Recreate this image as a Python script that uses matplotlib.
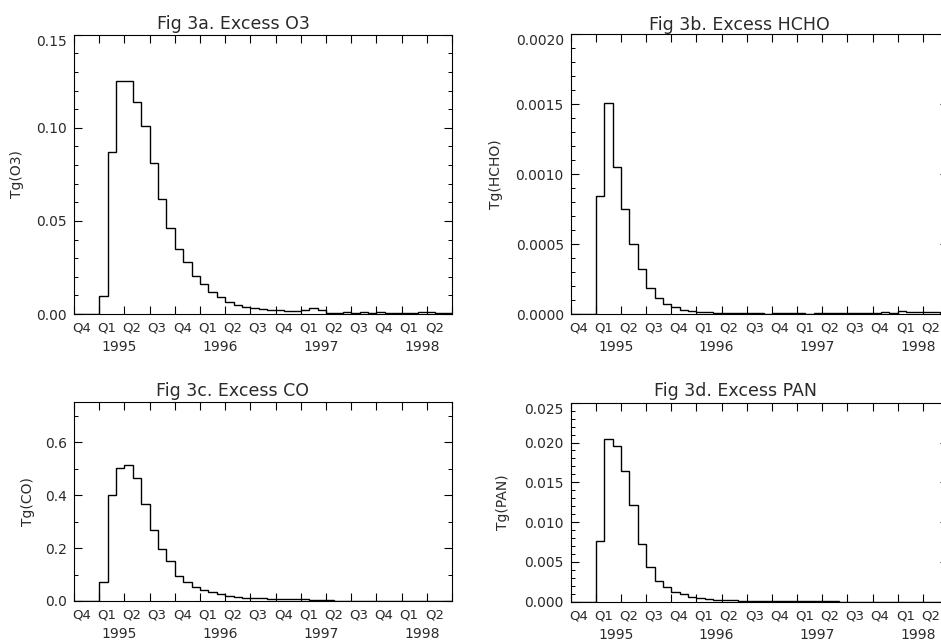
import numpy as np
import matplotlib
matplotlib.use("Agg")
import matplotlib.pyplot as plt
from matplotlib.ticker import MultipleLocator, FormatStrFormatter

# ---- data (monthly values, Oct 1994 .. Jun 1998) ----
quarter_labels = ["Q4", "Q1", "Q2", "Q3", "Q4", "Q1", "Q2", "Q3",
                  "Q4", "Q1", "Q2", "Q3", "Q4", "Q1", "Q2"]
year_labels = ["1995", "1996", "1997", "1998"]
year_quarter_index = [1, 5, 9, 13]   # Q1 of each year

o3 = [0, 0, 0, 0.0097, 0.0868, 0.125, 0.125, 0.114, 0.101, 0.081, 0.0617,
      0.046, 0.035, 0.0277, 0.0206, 0.0160, 0.0120, 0.0093, 0.0063, 0.0050,
      0.0040, 0.0032, 0.0027, 0.0023, 0.0020, 0.0018, 0.0017, 0.0020,
      0.0033, 0.0022, 0.0007, 0.0006, 0.0009, 0.0008, 0.0010, 0.0007,
      0.0009, 0.0006, 0.0008, 0.0007, 0.0007, 0.0009, 0.0010, 0.0008, 0.0003]

hcho = [0, 0, 0, 0.00084, 0.00151, 0.00105, 0.00075, 0.00050, 0.00032,
        0.000186, 0.000112, 0.000069, 0.000048, 0.000030, 0.000024,
        0.000017, 0.000013, 0.000010, 0.000008, 0.000010, 0.000006,
        0.000005, 0.000004, 0.000003, 0.000006, 0.000005, 0.000005,
        0.000004, 0.000003, 0.000006, 0.000005, 0.000007, 0.000008,
        0.000009, 0.000010, 0.000009, 0.000010, 0.000012, 0.000010,
        0.000020, 0.000012, 0.000014, 0.000013, 0.000011, 0.000010]

co = [0, 0, 0, 0.070, 0.400, 0.503, 0.513, 0.465, 0.367, 0.269, 0.195,
      0.151, 0.096, 0.072, 0.054, 0.041, 0.035, 0.025, 0.019, 0.015,
      0.0126, 0.011, 0.010, 0.009, 0.0075, 0.0072, 0.006, 0.0058, 0.005,
      0.0048, 0.0025, 0.0015, 0.0012, 0.0010, 0.0010, 0.0010, 0.0009,
      0.0009, 0.0008, 0.0008, 0.0008, 0.0007, 0.0007, 0.0007, 0.0006]

pan = [0, 0, 0, 0.0076, 0.0205, 0.0195, 0.0164, 0.0122, 0.0073, 0.0043,
       0.0026, 0.0018, 0.00126, 0.00092, 0.00063, 0.00042, 0.00033,
       0.00025, 0.00020, 0.00017, 0.00013, 0.00010, 0.00009, 0.00008,
       0.00007, 0.00006, 0.00005, 0.00005, 0.00004, 0.00004, 0.00003,
       0.00003, 0.00002, 0.00002, 0.00002, 0.00002, 0.00002, 0.00002,
       0.00002, 0.00002, 0.00002, 0.00002, 0.00002, 0.00002, 0.00002]

titles = ["Fig 3a. Excess O3", "Fig 3b. Excess HCHO",
          "Fig 3c. Excess CO", "Fig 3d. Excess PAN"]
ylabels = ["Tg(O3)", "Tg(HCHO)", "Tg(CO)", "Tg(PAN)"]

TXT = "#2a2a2a"
W, H = 941, 640
plt.rcParams["font.family"] = ["DejaVu Sans"]
fig = plt.figure(figsize=(W / 100, H / 100), dpi=100)


def px_axes(left, top, right, bottom):
    return fig.add_axes([left / W, 1 - bottom / H, (right - left) / W,
                         (bottom - top) / H])


panels = [
    dict(rect=(74, 34.7, 452, 314), data=o3, ylim=0.15, major=0.05,
         minor=0.01, fmt="%.2f", ylab_x=17, title_xy=(233, 24)),
    dict(rect=(570.7, 34, 948, 314), data=hcho, ylim=0.0020, major=0.0005,
         minor=0.0001, fmt="%.4f", ylab_x=496, title_xy=(739, 25)),
    dict(rect=(74, 402.3, 452, 601), data=co, ylim=0.75, major=0.2,
         minor=0.1, fmt="%.1f", ylab_x=28, title_xy=(233, 391)),
    dict(rect=(570.7, 402.7, 948, 601.7), data=pan, ylim=0.025,
         major=0.005, minor=0.001, fmt="%.3f", ylab_x=503,
         title_xy=(735, 391)),
]

n_months = len(o3)
edges = np.arange(n_months + 1)
axes = []

for i, p in enumerate(panels):
    l, t, r, b = p["rect"]
    ax = px_axes(l, t, r, b)
    axes.append(ax)
    ax.stairs(p["data"], edges, color="black", lw=1.0, baseline=0)
    ax.set_xlim(0, n_months)
    ax.set_ylim(0, p["ylim"])
    ax.xaxis.set_major_locator(MultipleLocator(3))
    ax.yaxis.set_major_locator(MultipleLocator(p["major"]))
    ax.yaxis.set_minor_locator(MultipleLocator(p["minor"]))
    ax.yaxis.set_major_formatter(FormatStrFormatter(p["fmt"]))
    ax.tick_params(axis="both", which="both", direction="in", top=True,
                   right=True, colors="black", labelcolor=TXT)
    ax.tick_params(axis="both", which="major", length=6, width=0.8)
    ax.tick_params(axis="y", which="minor", length=3, width=0.7)
    ax.tick_params(axis="y", labelsize=10, pad=5)
    ax.tick_params(axis="x", labelbottom=False)
    for s in ax.spines.values():
        s.set_linewidth(0.8)
        s.set_color("black")

    # quarter and year labels
    for q, lab in enumerate(quarter_labels):
        ax.annotate(lab, xy=(3 * q + 1.5, 0), xycoords=("data", "axes fraction"),
                    xytext=(-3.6, -10.1), textcoords="offset points",
                    ha="center", va="center", fontsize=9.5, color=TXT,
                    annotation_clip=False)
    for yq, ylab in zip(year_quarter_index, year_labels):
        ax.annotate(ylab, xy=(3 * yq + 3, 0), xycoords=("data", "axes fraction"),
                    xytext=(-3.6, -23.8), textcoords="offset points",
                    ha="center", va="center", fontsize=10, color=TXT,
                    annotation_clip=False)

    ax.set_ylabel(ylabels[i], fontsize=10, color=TXT, va="center")
    ax.yaxis.set_label_coords((p["ylab_x"] - l) / (r - l), 0.5)

    tx, ty = p["title_xy"]
    fig.text(tx / W, 1 - ty / H, titles[i], ha="center", va="center",
             fontsize=12.5, color=TXT)

# the top y tick label sits just below its tick
fig.canvas.draw()
for ax, p in zip(axes, panels):
    for tick in ax.yaxis.get_major_ticks():
        if abs(tick.get_loc() - p["ylim"]) < 1e-9:
            tick.label1.set_verticalalignment("top")

fig.savefig("out.png", dpi=100)
